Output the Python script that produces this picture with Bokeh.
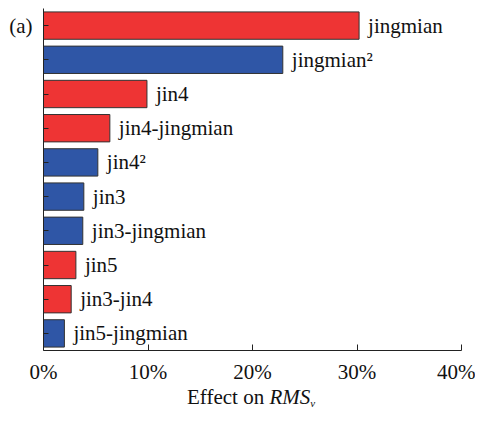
from bokeh.plotting import figure
from bokeh.models import (FactorRange, Range1d, FixedTicker, PrintfTickFormatter,
                          ColumnDataSource, Div, CustomJSTickFormatter)
from bokeh.layouts import column
from bokeh.core.properties import value
from bokeh.embed import file_html
from bokeh.resources import INLINE

categories = ["jingmian", "jingmian²", "jin4", "jin4-jingmian", "jin4²",
              "jin3", "jin3-jingmian", "jin5", "jin3-jin4", "jin5-jingmian"]
effects = [30.2, 22.9, 9.9, 6.35, 5.2, 3.86, 3.76, 3.1, 2.65, 2.0]
groups = ["red", "blue", "red", "red", "blue", "blue", "blue", "red", "red", "blue"]
x_ticks = [0, 10, 20, 30, 40]
panel_tag = "(a)"

palette = {"red": "#EE3434", "blue": "#2F56A6"}
colors = [palette[g] for g in groups]

src = ColumnDataSource(dict(cat=categories, val=effects, color=colors))

SERIF = "'Liberation Serif', 'Times New Roman', serif"
FS = "21px"

p = figure(width=475, height=386, output_backend="svg", toolbar_location=None,
           y_range=FactorRange(factors=list(reversed(categories)), range_padding=0),
           x_range=Range1d(0, 40))
p.min_border_left = 43
p.min_border_right = 14
p.min_border_top = 8
p.min_border_bottom = 34
p.outline_line_color = None
p.xgrid.grid_line_color = None
p.ygrid.grid_line_color = None

p.hbar(y="cat", right="val", left=0, height=0.8, source=src,
       fill_color="color", line_color="#333333", line_width=1)

p.text(x="val", y="cat", text="cat", source=src, x_offset=9,
       text_baseline="middle", text_align="left",
       text_font=value(SERIF), text_font_size=FS, text_color="#111111")

# x axis
xa = p.xaxis[0]
xa.ticker = FixedTicker(ticks=x_ticks)
xa.formatter = PrintfTickFormatter(format="%d%%")
xa.major_tick_in = 6
xa.major_tick_out = 0
xa.minor_tick_line_color = None
xa.axis_line_color = "#222222"
xa.major_tick_line_color = "#222222"
xa.major_label_text_font = SERIF
xa.major_label_text_font_size = FS
xa.major_label_text_color = "#111111"
xa.major_label_standoff = 9

# y axis: category names are written beside the bars; only the panel tag is shown
ya = p.yaxis[0]
ya.major_tick_in = 5
ya.major_tick_out = 0
ya.axis_line_color = "#222222"
ya.major_tick_line_color = "#222222"
ya.major_label_text_font = SERIF
ya.major_label_text_font_size = FS
ya.major_label_text_color = "#111111"
ya.major_label_standoff = 11
ya.formatter = CustomJSTickFormatter(
    args=dict(first=categories[0], tag=panel_tag),
    code="return tick == first ? tag : '';")

xlabel = Div(
    text=('<div style="margin-left:187px;font-family:\'Liberation Serif\',\'Times New Roman\',serif;'
          'font-size:21px;color:#111111;white-space:nowrap;line-height:23px">'
          'Effect on <i>RMS</i><sub style="font-size:11px;vertical-align:-3px">'
          '<i>v</i></sub></div>'),
    width=475, height=30, margin=(0, 0, 0, 0))

layout = column(p, xlabel, spacing=0)

open("out.html", "w").write(file_html(layout, INLINE))
